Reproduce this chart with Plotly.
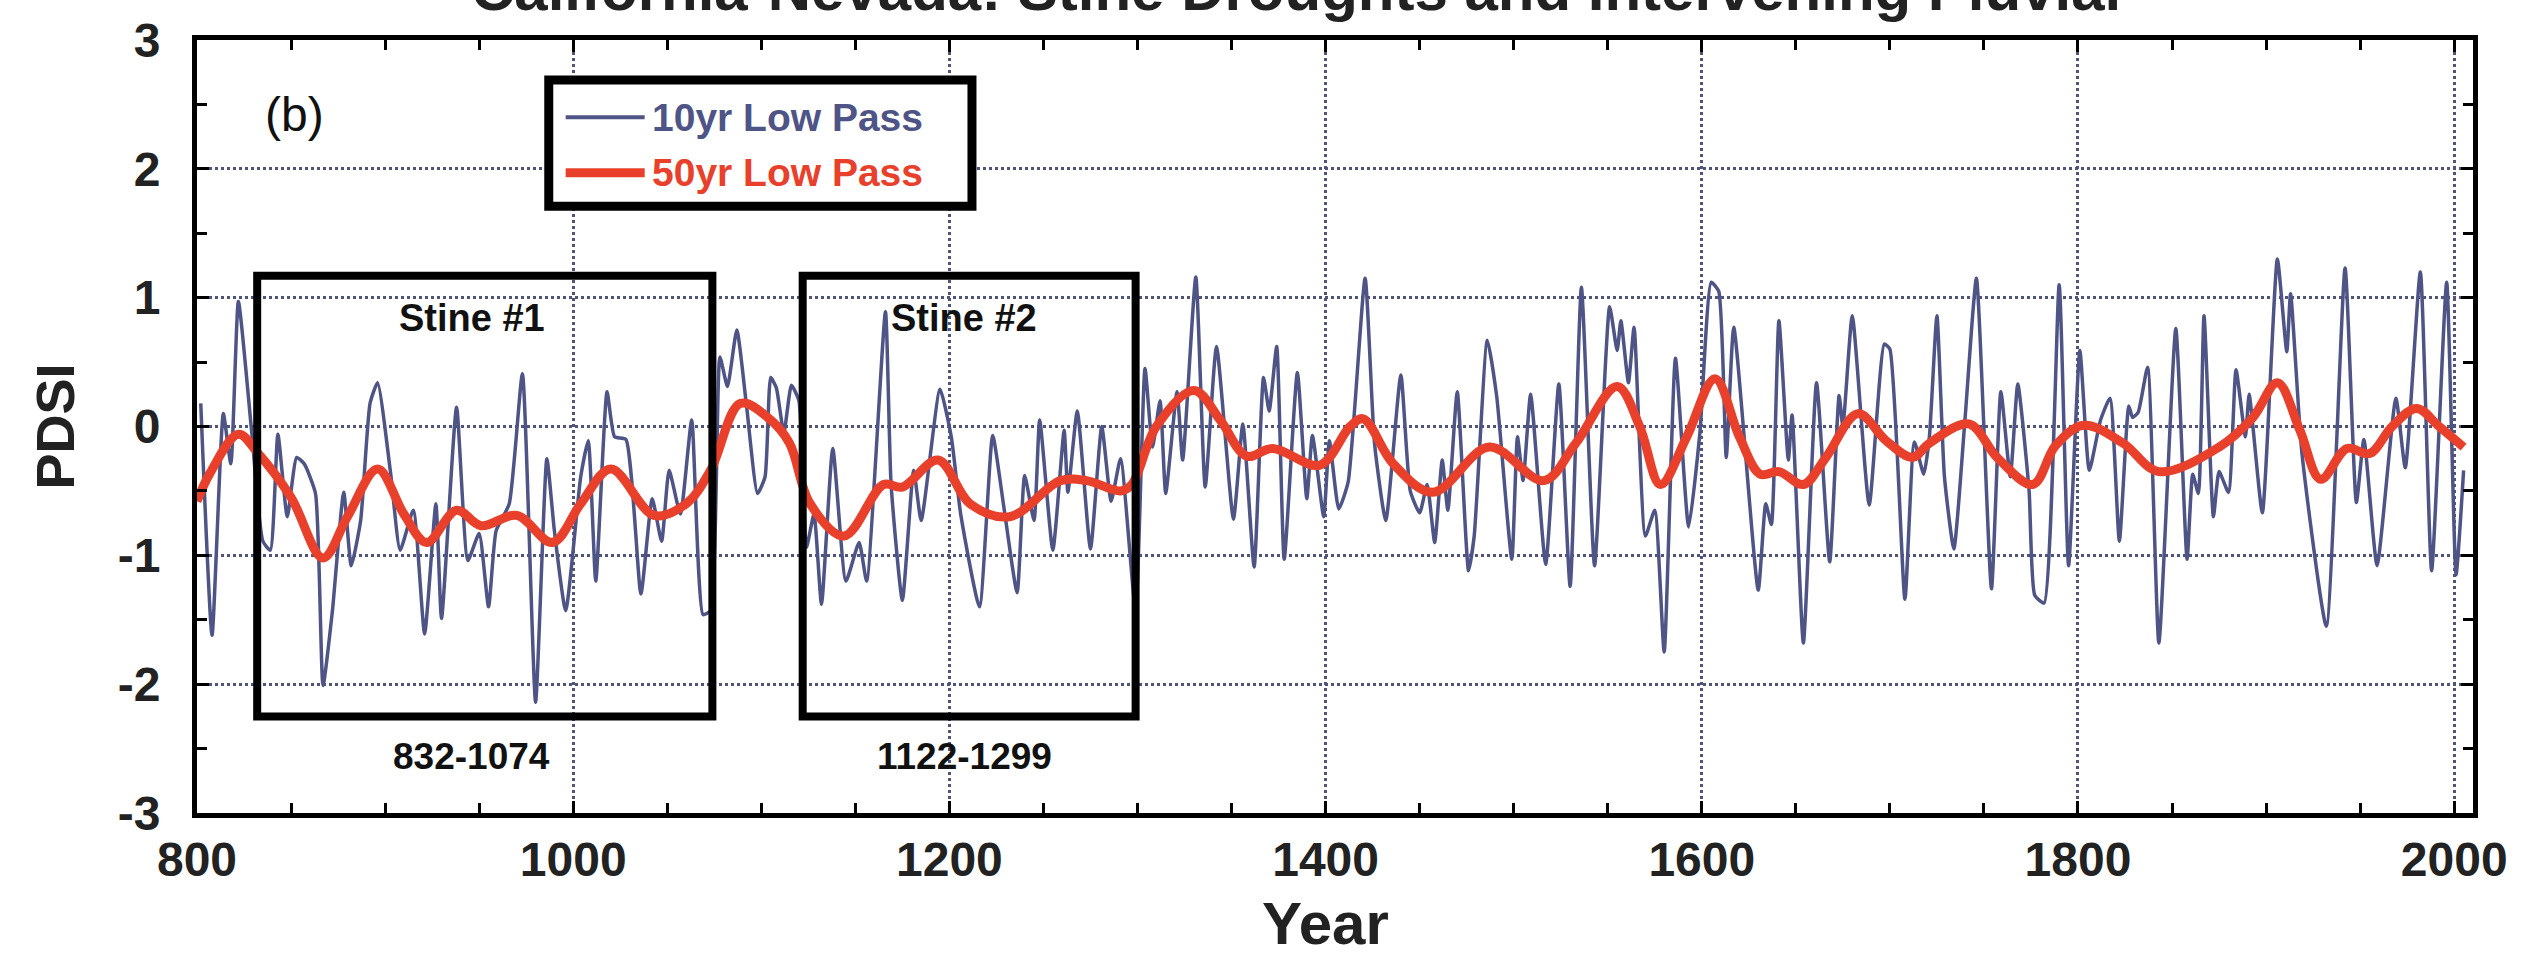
import plotly.graph_objects as go

# ---------------- data ----------------
years_10yr = [802, 808, 814, 818, 822, 829, 835, 839, 843, 848, 853, 857, 863, 867, 872, 878, 882, 887,
              892, 896, 903, 908, 915, 921, 927, 930, 938, 944, 950,
              955, 959, 966, 973, 980, 986, 990, 996, 1004, 1008, 1012, 1018, 1022, 1028, 1036, 1042,
              1047, 1051, 1057, 1063, 1069, 1073, 1078, 1082, 1087, 1092, 1098, 1102, 1105,
              1108, 1112, 1116, 1120, 1124, 1128, 1132, 1138, 1145, 1152, 1156, 1166, 1169, 1175, 1181,
              1185, 1195, 1201, 1206, 1216, 1223, 1229, 1236, 1240, 1245, 1248, 1255,
              1261, 1263, 1268, 1275, 1281, 1286, 1291, 1299, 1304, 1308, 1312, 1315, 1321, 1324, 1331,
              1336, 1342, 1351, 1356, 1362, 1367, 1370, 1374, 1378, 1385, 1390, 1393, 1399, 1402, 1407, 1412,
              1421, 1426, 1432, 1440, 1445, 1450, 1454, 1458, 1462, 1465, 1470, 1476, 1479, 1486, 1491,
              1499, 1502, 1505, 1509, 1517, 1524, 1530, 1536, 1543, 1551, 1555, 1557, 1561, 1564,
              1570, 1575, 1580, 1586, 1593, 1599, 1605, 1609, 1613, 1617, 1630, 1634, 1637, 1641, 1646,
              1648, 1654, 1661, 1668, 1673, 1675, 1680, 1689, 1697, 1700, 1708, 1713, 1718, 1721,
              1725, 1729, 1734, 1740, 1746, 1754, 1759, 1764, 1768, 1774, 1777, 1782, 1790, 1795, 1801,
              1806, 1812, 1817, 1822, 1827, 1829, 1832, 1837, 1843, 1852, 1858, 1861, 1864, 1867, 1872, 1875,
              1880, 1884, 1889, 1891, 1898, 1906, 1911, 1913, 1919, 1932, 1942, 1948, 1952, 1959, 1969,
              1974, 1982, 1988, 1996, 2001, 2005]
pdsi_10yr = [0.18, -1.62, 0.10, -0.29, 0.97, -0.03, -0.89, -0.96, -0.06, -0.70, -0.24, -0.29, -0.52, -2.01, -1.43, -0.51, -1.08, -0.73,
             0.18, 0.34, -0.37, -0.96, -0.65, -1.61, -0.60, -1.49, 0.15, -1.04, -0.83,
             -1.40, -0.81, -0.60, 0.41, -2.14, -0.25, -0.81, -1.43, -0.39, -0.11, -1.20, 0.27, -0.08, -0.10, -1.30, -0.56,
             -0.89, -0.34, -0.68, 0.05, -1.46, -1.43, 0.54, 0.31, 0.75, 0.18, -0.52, -0.39, 0.38,
             0.30, -0.05, 0.32, 0.20, -0.94, -0.68, -1.38, -0.17, -1.20, -0.90, -1.20, 0.89, -0.45, -1.35, -0.34,
             -0.73, 0.29, -0.08, -0.68, -1.40, -0.07, -0.63, -1.29, -0.38, -0.73, 0.05, -0.96,
             -0.03, -0.51, 0.12, -0.95, 0.00, -0.58, -0.25, -1.43, 0.45, -0.16, 0.20, -0.52, 0.27, -0.26, 1.16,
             -0.47, 0.62, -0.72, 0.02, -1.09, 0.38, 0.12, 0.62, -1.03, 0.42, -0.56, -0.07, -0.70, -0.11, -0.64, -0.43,
             1.15, -0.13, -0.73, 0.40, -0.50, -0.67, -0.45, -0.90, -0.26, -0.65, 0.27, -1.12, -0.85, 0.67, 0.23,
             -1.03, -0.08, -0.42, 0.25, -1.07, 0.33, -1.24, 1.08, -1.08, 0.93, 0.59, 0.82, 0.34, 0.77,
             -0.85, -0.65, -1.75, 0.53, -0.78, -0.05, 1.12, 1.05, -0.24, 0.77, -1.27, -0.60, -0.76, 0.82, -0.26,
             0.09, -1.68, 0.34, -1.05, 0.24, 0.00, 0.86, -0.61, 0.64, 0.60, -1.34, -0.12, -0.37, -0.08,
             0.86, -0.39, -0.95, 0.07, 1.15, -1.26, 0.27, -0.39, 0.33, -0.50, -1.31, -1.37, 1.10, -1.08, 0.59,
             -0.34, 0.05, 0.22, -0.89, 0.16, 0.07, 0.11, 0.46, -1.68, 0.76, -1.03, -0.37, -0.52, 0.86, -0.70, -0.35,
             -0.51, 0.44, -0.08, 0.25, -0.67, 1.30, 0.58, 1.03, -0.20, -1.55, 1.23, -0.59, -0.10, -1.08, 0.22,
             -0.32, 1.20, -1.12, 1.12, -1.15, -0.34]

years_50yr = [800, 807, 822, 832, 850, 867, 880, 896, 910, 922, 938, 951, 970, 989, 1004, 1020, 1043, 1060,
              1073, 1089, 1105, 1115, 1126, 1144, 1165, 1175, 1194, 1211, 1232, 1259, 1273, 1291, 1297,
              1310, 1330, 1344, 1358, 1372, 1397, 1413, 1420, 1436, 1457, 1487, 1516, 1533, 1555, 1567,
              1578, 1592, 1607, 1620, 1631, 1641, 1654, 1666, 1683, 1698, 1712, 1721, 1742, 1757, 1776,
              1788, 1803, 1824, 1843, 1875, 1893, 1906, 1918, 1929, 1943, 1955, 1967, 1980, 1992, 2005]
pdsi_50yr = [-0.58, -0.36, -0.06, -0.20, -0.55, -1.02, -0.70, -0.33, -0.68, -0.90, -0.65, -0.77, -0.69, -0.90, -0.60, -0.33, -0.69, -0.60,
             -0.34, 0.18, 0.05, -0.13, -0.60, -0.85, -0.45, -0.47, -0.26, -0.60, -0.70, -0.42, -0.42, -0.50, -0.45,
             0.00, 0.28, 0.05, -0.23, -0.17, -0.30, 0.00, 0.06, -0.29, -0.51, -0.16, -0.42, -0.13, 0.31, 0.00,
             -0.45, -0.08, 0.37, -0.08, -0.37, -0.35, -0.45, -0.24, 0.10, -0.11, -0.24, -0.13, 0.02, -0.24, -0.45,
             -0.15, 0.01, -0.13, -0.35, -0.16, 0.07, 0.34, -0.03, -0.41, -0.17, -0.21, 0.00, 0.14, 0.00, -0.16]

x_tick_vals = [800, 1000, 1200, 1400, 1600, 1800, 2000]
x_tick_text = ["800", "1000", "1200", "1400", "1600", "1800", "2000"]
y_tick_vals = [-3, -2, -1, 0, 1, 2, 3]
y_tick_text = ["-3", "-2", "-1", "0", "1", "2", "3"]

# (start, end, name, period label, label centre year)
stine_periods = [(832, 1074, "Stine #1", "832-1074", 946), (1122, 1299, "Stine #2", "1122-1299", 1208)]

# ---------------- styles ----------------
BLUE = "#4e5486"
RED = "#e8402a"
GRID = "#4f5478"
FONT = "Liberation Sans, Arial, Helvetica, sans-serif"

fig = go.Figure()
fig.add_trace(go.Scatter(x=years_10yr, y=pdsi_10yr, mode="lines", name="10yr Low Pass",
                         line=dict(color=BLUE, width=3.5, shape="spline", smoothing=0.5),
                         showlegend=False))
fig.add_trace(go.Scatter(x=years_50yr, y=pdsi_50yr, mode="lines", name="50yr Low Pass",
                         line=dict(color=RED, width=9, shape="spline", smoothing=1.0),
                         showlegend=False))

shapes = []
annotations = []
box_top, box_bottom = 1.17, -2.25
for x0, x1, name, period, xc in stine_periods:
    shapes.append(dict(type="rect", xref="x", yref="y", x0=x0, x1=x1, y0=box_bottom, y1=box_top,
                       line=dict(color="black", width=8), fillcolor="rgba(0,0,0,0)", layer="above"))
    annotations.append(dict(x=xc, y=0.84, xref="x", yref="y", text=name, showarrow=False,
                            font=dict(family=FONT, size=38, color="#111", weight="bold")))
    annotations.append(dict(x=xc, y=-2.56, xref="x", yref="y", text=period, showarrow=False,
                            font=dict(family=FONT, size=37, color="#111", weight="bold")))

# legend (drawn)
shapes.append(dict(type="rect", xref="x", yref="y", x0=987, x1=1212, y0=1.71, y1=2.69,
                   line=dict(color="black", width=9), fillcolor="white", layer="above"))
shapes.append(dict(type="line", xref="x", yref="y", x0=996, x1=1038, y0=2.40, y1=2.40,
                   line=dict(color=BLUE, width=4), layer="above"))
shapes.append(dict(type="line", xref="x", yref="y", x0=996, x1=1038, y0=1.97, y1=1.97,
                   line=dict(color=RED, width=9), layer="above"))
annotations.append(dict(x=1041, y=2.40, xref="x", yref="y", xanchor="left", text="10yr Low Pass",
                        showarrow=False, font=dict(family=FONT, size=39, color=BLUE, weight="bold")))
annotations.append(dict(x=1041, y=1.97, xref="x", yref="y", xanchor="left", text="50yr Low Pass",
                        showarrow=False, font=dict(family=FONT, size=39, color=RED, weight="bold")))

annotations.append(dict(x=852, y=2.42, xref="x", yref="y", text="(b)", showarrow=False,
                        font=dict(family=FONT, size=48, color="#111")))

# title (partly cut off at the top of the page, as in the reference)
annotations.append(dict(x=0.483, y=1.0194, xref="paper", yref="paper", yanchor="bottom",
                        text="California-Nevada: Stine Droughts and Intervening Pluvial", showarrow=False,
                        font=dict(family=FONT, size=60, color="#222", weight="bold")))
# axis titles
annotations.append(dict(x=0.496, y=-0.143, xref="paper", yref="paper", yanchor="middle",
                        text="Year", showarrow=False,
                        font=dict(family=FONT, size=60, color="#222", weight="bold")))
annotations.append(dict(x=-0.0624, y=0, xref="paper", yref="y", xanchor="center", yanchor="middle",
                        text="PDSI", textangle=-90, showarrow=False,
                        font=dict(family=FONT, size=54, color="#222", weight="bold")))

axis_common = dict(ticks="inside", ticklen=12, tickwidth=3, tickcolor="black",
                   showline=True, linewidth=5, linecolor="black", mirror="ticks",
                   showgrid=True, gridcolor=GRID, griddash="dot", gridwidth=2.5, zeroline=False,
                   tickfont=dict(family=FONT, size=48, color="#222", weight="bold"))

fig.update_layout(
    width=2540, height=958,
    margin=dict(l=197, r=67, t=40, b=145),
    paper_bgcolor="white", plot_bgcolor="white",
    xaxis=dict(range=[800, 2010], tickvals=x_tick_vals, ticktext=x_tick_text,
               ticklabelstandoff=0,
               minor=dict(tick0=800, dtick=50, ticks="inside", ticklen=10, tickwidth=3,
                          tickcolor="black", showgrid=False),
               **axis_common),
    yaxis=dict(range=[-3, 3], tickvals=y_tick_vals, ticktext=y_tick_text,
               ticklabelstandoff=22,
               minor=dict(tick0=-3, dtick=0.5, ticks="inside", ticklen=10, tickwidth=3,
                          tickcolor="black", showgrid=False),
               **axis_common),
    shapes=shapes, annotations=annotations, showlegend=False,
)

fig.write_html("out.html")
